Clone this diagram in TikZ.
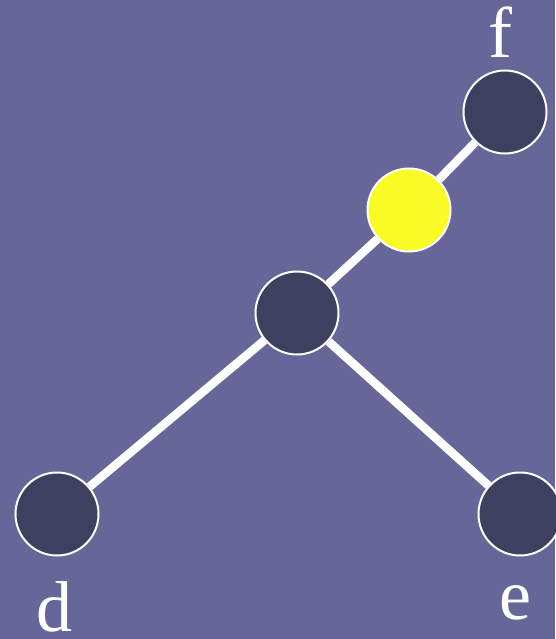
\documentclass[tikz,border=0pt]{standalone}
\usepackage{fontspec}
\setmainfont{Liberation Serif}
\definecolor{fond}{RGB}{102,102,153}
\definecolor{sombre}{RGB}{63,63,95}
\definecolor{jaune}{RGB}{249,252,36}
\begin{document}
\begin{tikzpicture}[x=1pt,y=-1pt]
			% Style des sommets et des arêtes
			\tikzset{ sommet/.style={circle, draw=white, line width=2pt, fill=sombre, minimum size=83pt, inner sep=0pt},
				arete/.style={white, line width=8.5pt},
				etiq/.style={text=white, anchor=base, font=\fontsize{72}{72}\selectfont, inner sep=0pt} }
			\fill[fond] (0,0) rectangle (555,639);
			\useasboundingbox (0,0) rectangle (555,639);
			\node[sommet] (m) at (297,313) {};
			\node[sommet, fill=jaune] (y) at (409,210) {};
			\node[sommet] (f) at (505,112) {};
			\node[sommet] (d) at (57,514) {};
			\node[sommet] (e) at (520,514) {};
			\draw[arete] (m) -- (d);
			\draw[arete] (m) -- (e);
			\draw[arete] (m) -- (y);
			\draw[arete] (y) -- (f);
			\node[etiq] (lf) at (500,58) {f};
			\node[etiq] (ld) at (54,631) {d};
			\node[etiq] (le) at (515,619) {e};
		\end{tikzpicture}
\end{document}
